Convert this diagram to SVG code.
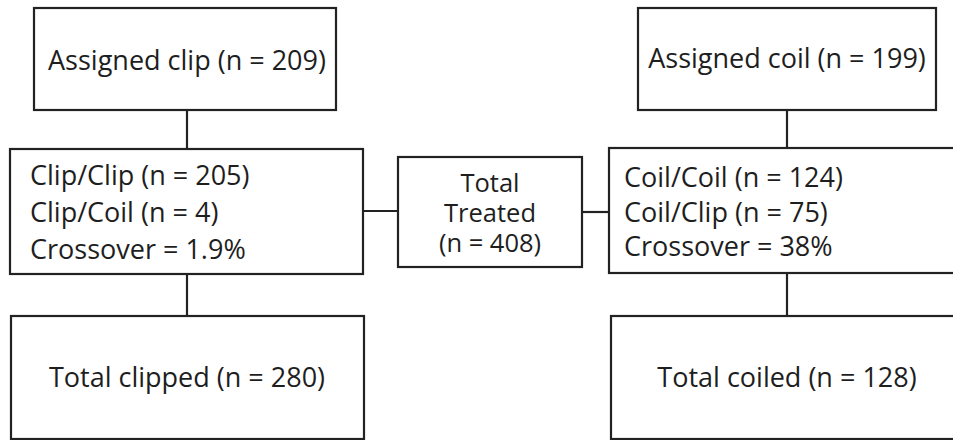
<svg xmlns="http://www.w3.org/2000/svg" width="953" height="440" viewBox="0 0 953 440">
<style>
rect{fill:#fff;stroke:#222;stroke-width:2.2}
line{stroke:#222;stroke-width:2.2}
text{font-family:"Open Sans","Noto Sans",sans-serif;font-size:27px;fill:#1e1e1e}
.c{text-anchor:middle}
.s{font-size:25.5px}
</style>
<rect x="0" y="0" width="953" height="440" style="stroke:none;fill:#fff"/>
<g id="connectors">
<line x1="187" y1="110" x2="187" y2="149"/>
<line x1="187" y1="274" x2="187" y2="316"/>
<line x1="363" y1="211" x2="398" y2="211"/>
<line x1="582" y1="212" x2="609" y2="212"/>
<line x1="787" y1="110" x2="787" y2="148"/>
<line x1="787" y1="273" x2="787" y2="316"/>
</g>
<g id="assigned-clip">
<rect x="34" y="8" width="302" height="102"/>
<text class="c" x="187" y="70">Assigned clip (n = 209)</text>
</g>
<g id="clip-results">
<rect x="10" y="149" width="353" height="125"/>
<text x="30" y="185">Clip/Clip (n = 205)</text>
<text x="30" y="222">Clip/Coil (n = 4)</text>
<text x="30" y="259">Crossover = 1.9%</text>
</g>
<g id="total-clipped">
<rect x="11" y="316" width="353" height="123"/>
<text class="c" x="187" y="387">Total clipped (n = 280)</text>
</g>
<g id="total-treated">
<rect x="398" y="157" width="184" height="110"/>
<text class="c s" x="490" y="192">Total</text>
<text class="c s" x="490" y="222">Treated</text>
<text class="c s" x="490" y="252">(n = 408)</text>
</g>
<g id="assigned-coil">
<rect x="638" y="8" width="298" height="102"/>
<text class="c" x="787" y="68">Assigned coil (n = 199)</text>
</g>
<g id="coil-results">
<rect x="609" y="148" width="360" height="125"/>
<text x="624" y="187">Coil/Coil (n = 124)</text>
<text x="624" y="222">Coil/Clip (n = 75)</text>
<text x="624" y="256">Crossover = 38%</text>
</g>
<g id="total-coiled">
<rect x="611" y="316" width="360" height="123"/>
<text class="c" x="787" y="387">Total coiled (n = 128)</text>
</g>
</svg>
